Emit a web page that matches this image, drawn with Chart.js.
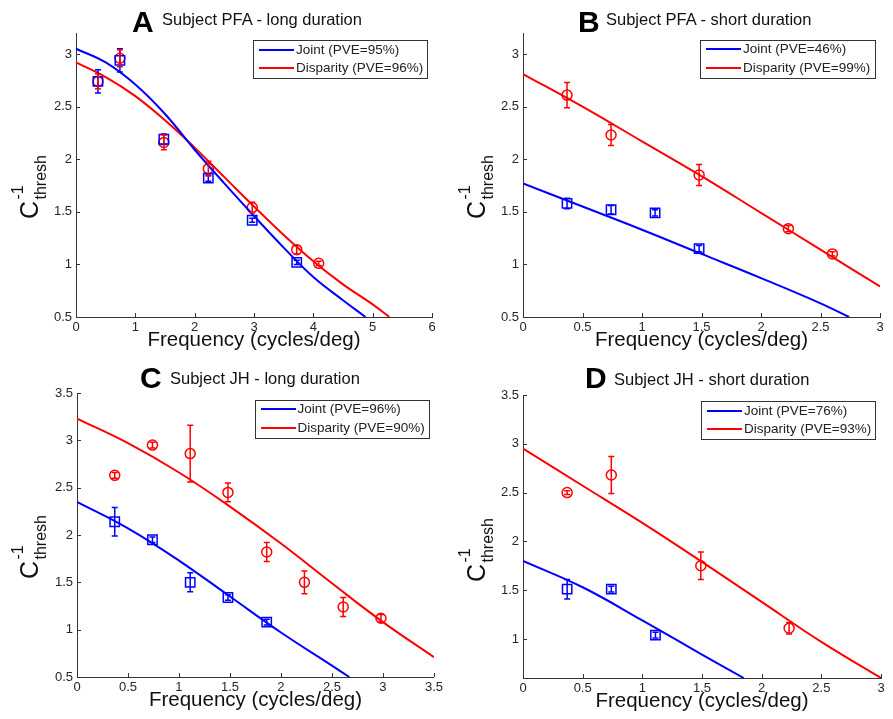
<!DOCTYPE html>
<html>
<head>
<meta charset="utf-8">
<script src="https://cdn.jsdelivr.net/npm/chart.js@4.4.1/dist/chart.umd.min.js"></script>
<style>
html,body{margin:0;padding:0;background:#fff;}
#fig{position:relative;width:893px;height:719px;overflow:hidden;background:#fff;font-family:'Liberation Sans',Arial,sans-serif;color:#000;}
canvas{position:absolute;}
.lt{position:absolute;font-weight:bold;font-size:30px;line-height:30px;white-space:nowrap;color:#000;}
.tt{position:absolute;font-size:16.5px;line-height:16.5px;white-space:nowrap;color:#111;}
.leg{position:absolute;box-sizing:border-box;border:1px solid #333;background:#fff;}
.leg .ln{position:absolute;height:2px;}
.leg .tx{position:absolute;font-size:13.5px;line-height:18px;white-space:nowrap;color:#222;}
.ylab{position:absolute;width:66px;height:46px;transform:rotate(-90deg);transform-origin:50% 50%;color:#111;}
.ylab span{position:absolute;white-space:nowrap;}
.ylab .yc{left:0;top:10px;font-size:25px;line-height:25px;}
.ylab .ysup{left:19.5px;top:3px;font-size:16px;line-height:16px;}
.ylab .ysub{left:19.5px;top:26px;font-size:16px;line-height:16px;}
</style>
</head>
<body>
<div id="fig"></div>
<script>
// ---------------- DATA ----------------
const seriesNames = ['Joint', 'Disparity'];
const xAxisLabel = 'Frequency (cycles/deg)';

// Panel A : Subject PFA - long duration
const aTitle = 'Subject PFA - long duration';
const aLegend = ['Joint (PVE=95%)', 'Disparity (PVE=96%)'];
const aJointFreq = [0.37, 0.74, 1.48, 2.23, 2.97, 3.72];
const aJointVal  = [2.74, 2.94, 2.19, 1.82, 1.42, 1.02];
const aJointErr  = [0.11, 0.11, 0.05, 0.03, 0.02, 0.02];
const aDispFreq  = [0.37, 0.74, 1.48, 2.23, 2.97, 3.72, 4.09];
const aDispVal   = [2.74, 2.96, 2.16, 1.91, 1.54, 1.14, 1.01];
const aDispErr   = [0.07, 0.08, 0.07, 0.07, 0.05, 0.04, 0.02];
const aJointFitFreq = [0, 0.5, 1, 1.5, 2, 2.5, 3, 3.5, 4, 4.5, 4.88];
const aJointFitVal  = [3.05, 2.92, 2.71, 2.43, 2.09, 1.77, 1.46, 1.16, 0.88, 0.66, 0.5];
const aDispFitFreq  = [0, 0.5, 1, 1.5, 2, 2.5, 3, 3.5, 4, 4.5, 5, 5.28];
const aDispFitVal   = [2.92, 2.78, 2.60, 2.37, 2.11, 1.83, 1.55, 1.28, 1.03, 0.81, 0.62, 0.5];
const aXTicks = [0, 1, 2, 3, 4, 5, 6];
const aYTicks = [0.5, 1, 1.5, 2, 2.5, 3];

// Panel B : Subject PFA - short duration
const bTitle = 'Subject PFA - short duration';
const bLegend = ['Joint (PVE=46%)', 'Disparity (PVE=99%)'];
const bJointFreq = [0.37, 0.74, 1.11, 1.48];
const bJointVal  = [1.58, 1.52, 1.49, 1.15];
const bJointErr  = [0.05, 0.04, 0.03, 0.03];
const bDispFreq  = [0.37, 0.74, 1.48, 2.23, 2.60];
const bDispVal   = [2.61, 2.23, 1.85, 1.34, 1.10];
const bDispErr   = [0.12, 0.10, 0.10, 0.03, 0.02];
const bJointFitFreq = [0, 0.5, 1, 1.5, 2, 2.5, 2.74];
const bJointFitVal  = [1.77, 1.55, 1.33, 1.10, 0.87, 0.63, 0.5];
const bDispFitFreq  = [0, 0.5, 1, 1.5, 2, 2.5, 3];
const bDispFitVal   = [2.81, 2.50, 2.17, 1.84, 1.49, 1.14, 0.79];
const bXTicks = [0, 0.5, 1, 1.5, 2, 2.5, 3];
const bYTicks = [0.5, 1, 1.5, 2, 2.5, 3];

// Panel C : Subject JH - long duration
const cTitle = 'Subject JH - long duration';
const cLegend = ['Joint (PVE=96%)', 'Disparity (PVE=90%)'];
const cJointFreq = [0.37, 0.74, 1.11, 1.48, 1.86];
const cJointVal  = [2.14, 1.95, 1.50, 1.34, 1.08];
const cJointErr  = [0.15, 0.03, 0.10, 0.03, 0.03];
const cDispFreq  = [0.37, 0.74, 1.11, 1.48, 1.86, 2.23, 2.61, 2.98];
const cDispVal   = [2.63, 2.95, 2.86, 2.45, 1.82, 1.50, 1.24, 1.12];
const cDispErr   = [0.03, 0.03, 0.30, 0.10, 0.10, 0.12, 0.10, 0.04];
const cJointFitFreq = [0, 0.5, 1, 1.5, 2, 2.5, 2.67];
const cJointFitVal  = [2.35, 2.07, 1.73, 1.35, 0.97, 0.62, 0.5];
const cDispFitFreq  = [0, 0.5, 1, 1.5, 2, 2.5, 3, 3.5];
const cDispFitVal   = [3.23, 2.97, 2.66, 2.30, 1.91, 1.49, 1.08, 0.71];
const cXTicks = [0, 0.5, 1, 1.5, 2, 2.5, 3, 3.5];
const cYTicks = [0.5, 1, 1.5, 2, 2.5, 3, 3.5];

// Panel D : Subject JH - short duration
const dTitle = 'Subject JH - short duration';
const dLegend = ['Joint (PVE=76%)', 'Disparity (PVE=93%)'];
const dJointFreq = [0.37, 0.74, 1.11];
const dJointVal  = [1.51, 1.51, 1.04];
const dJointErr  = [0.10, 0.03, 0.03];
const dDispFreq  = [0.37, 0.74, 1.49, 2.23];
const dDispVal   = [2.50, 2.68, 1.75, 1.11];
const dDispErr   = [0.02, 0.19, 0.14, 0.06];
const dJointFitFreq = [0, 0.5, 1, 1.5, 1.85];
const dJointFitVal  = [1.80, 1.53, 1.19, 0.84, 0.6];
const dDispFitFreq  = [0, 0.5, 1, 1.5, 2, 2.5, 3];
const dDispFitVal   = [2.95, 2.57, 2.19, 1.79, 1.38, 0.97, 0.60];
const dXTicks = [0, 0.5, 1, 1.5, 2, 2.5, 3];
const dYTicks = [1, 1.5, 2, 2.5, 3, 3.5];

// ---------------- LAYOUT / STYLE ----------------
const JOINT_COLOR = '#0000ff';
const DISP_COLOR = '#ff0000';
const AXIS_COLOR = '#333333';
const TICK_COLOR = '#262626';

const panels = [
  { letter:'A', title:aTitle, legend:aLegend,
    jf:aJointFreq, jv:aJointVal, je:aJointErr, df:aDispFreq, dv:aDispVal, de:aDispErr,
    jfx:aJointFitFreq, jfy:aJointFitVal, dfx:aDispFitFreq, dfy:aDispFitVal,
    xt:aXTicks, yt:aYTicks, xmin:0, xmax:6, ymin:0.5, ymax:3.2,
    canvas:[0,0,446,360], area:[76,33,432,317],
    letterPos:[132,32], titlePos:[162,24.8], legBox:[253,40,175,39], ylab:[30,186] },
  { letter:'B', title:bTitle, legend:bLegend,
    jf:bJointFreq, jv:bJointVal, je:bJointErr, df:bDispFreq, dv:bDispVal, de:bDispErr,
    jfx:bJointFitFreq, jfy:bJointFitVal, dfx:bDispFitFreq, dfy:bDispFitVal,
    xt:bXTicks, yt:bYTicks, xmin:0, xmax:3, ymin:0.5, ymax:3.2,
    canvas:[447,0,446,360], area:[523,33,880,317],
    letterPos:[578,32], titlePos:[606,24.8], legBox:[700,39.5,176,39], ylab:[477,186] },
  { letter:'C', title:cTitle, legend:cLegend,
    jf:cJointFreq, jv:cJointVal, je:cJointErr, df:cDispFreq, dv:cDispVal, de:cDispErr,
    jfx:cJointFitFreq, jfy:cJointFitVal, dfx:cDispFitFreq, dfy:cDispFitVal,
    xt:cXTicks, yt:cYTicks, xmin:0, xmax:3.5, ymin:0.5, ymax:3.5,
    canvas:[0,360,446,359], area:[77,393,435,677],
    letterPos:[140,388], titlePos:[170,384], legBox:[254.5,399.5,175,39], ylab:[30,546] },
  { letter:'D', title:dTitle, legend:dLegend,
    jf:dJointFreq, jv:dJointVal, je:dJointErr, df:dDispFreq, dv:dDispVal, de:dDispErr,
    jfx:dJointFitFreq, jfy:dJointFitVal, dfx:dDispFitFreq, dfy:dDispFitVal,
    xt:dXTicks, yt:dYTicks, xmin:0, xmax:3, ymin:0.6, ymax:3.5,
    canvas:[447,360,446,359], area:[523,395,881,678],
    letterPos:[585,388], titlePos:[614,384.5], legBox:[701,401,175,39], ylab:[477,549] }
];

Chart.defaults.font.family = "'Liberation Sans', Arial, sans-serif";

const inwardTicks = {
  id:'inwardTicks',
  afterDraw(chart){
    const {ctx, chartArea:ca, scales:{x, y}} = chart;
    ctx.save();
    ctx.strokeStyle = AXIS_COLOR; ctx.lineWidth = 1;
    x.ticks.forEach(t => {
      const px = Math.round(x.getPixelForValue(t.value)) + 0.5;
      ctx.beginPath(); ctx.moveTo(px, ca.bottom); ctx.lineTo(px, ca.bottom - 4); ctx.stroke();
    });
    y.ticks.forEach(t => {
      const py = Math.round(y.getPixelForValue(t.value)) + 0.5;
      ctx.beginPath(); ctx.moveTo(ca.left, py); ctx.lineTo(ca.left + 4, py); ctx.stroke();
    });
    ctx.restore();
  }
};

const errorBars = {
  id:'errorBars',
  afterDatasetsDraw(chart){
    const {ctx, scales:{x, y}} = chart;
    chart.data.datasets.forEach(ds => {
      if (!ds.errorBars) return;
      ctx.save();
      ctx.strokeStyle = ds.borderColor; ctx.lineWidth = 1.5;
      ds.data.forEach((p, j) => {
        const e = ds.errorBars[j];
        const px = x.getPixelForValue(p.x);
        const y1 = y.getPixelForValue(p.y - e), y2 = y.getPixelForValue(p.y + e);
        ctx.beginPath();
        ctx.moveTo(px, y1); ctx.lineTo(px, y2);
        ctx.moveTo(px - 3, y1); ctx.lineTo(px + 3, y1);
        ctx.moveTo(px - 3, y2); ctx.lineTo(px + 3, y2);
        ctx.stroke();
      });
      ctx.restore();
    });
  }
};

const fig = document.getElementById('fig');
const zip = (xs, ys) => xs.map((v, i) => ({x:v, y:ys[i]}));

function addText(cls, txt, left, top){
  const s = document.createElement('div');
  s.className = cls; s.textContent = txt;
  s.style.left = left + 'px'; s.style.top = top + 'px';
  fig.appendChild(s);
  return s;
}

panels.forEach(p => {
  const [cx, cy, cw, ch] = p.canvas;
  const [al, at, ar, ab] = p.area;
  const cv = document.createElement('canvas');
  cv.width = cw; cv.height = ch;
  cv.style.left = cx + 'px'; cv.style.top = cy + 'px';
  cv.style.width = cw + 'px'; cv.style.height = ch + 'px';
  fig.appendChild(cv);

  const yW = al - cx, xH = cy + ch - ab;
  const padTop = at - cy, padRight = cx + cw - ar;
  const titleSize = 20.5, titleLH = titleSize * 1.2;
  const titleBaseline = ab + 29.7 - cy;
  const titleMid = titleBaseline - 0.31 * titleSize;
  const titlePadBottom = ch - titleMid - titleLH / 2;

  new Chart(cv, {
    type:'scatter',
    data:{ datasets:[
      { label:seriesNames[0] + ' fit', data:zip(p.jfx, p.jfy), showLine:true, borderColor:JOINT_COLOR,
        borderWidth:2, pointRadius:0, tension:0.4, fill:false },
      { label:seriesNames[1] + ' fit', data:zip(p.dfx, p.dfy), showLine:true, borderColor:DISP_COLOR,
        borderWidth:2, pointRadius:0, tension:0.4, fill:false },
      { label:seriesNames[0], data:zip(p.jf, p.jv), errorBars:p.je, showLine:false, borderColor:JOINT_COLOR,
        backgroundColor:'rgba(0,0,0,0)', pointStyle:'rect', pointRadius:6.6, borderWidth:1.5 },
      { label:seriesNames[1], data:zip(p.df, p.dv), errorBars:p.de, showLine:false, borderColor:DISP_COLOR,
        backgroundColor:'rgba(0,0,0,0)', pointStyle:'circle', pointRadius:5, borderWidth:1.5 }
    ]},
    options:{
      responsive:false, animation:false, devicePixelRatio:1,
      layout:{ padding:{ top:padTop, right:padRight, left:0, bottom:0 } },
      plugins:{ legend:{display:false}, tooltip:{enabled:false}, title:{display:false} },
      scales:{
        x:{ type:'linear', min:p.xmin, max:p.xmax,
          afterBuildTicks:s => { s.ticks = p.xt.map(v => ({value:v})); },
          afterFit:s => { s.height = xH; },
          grid:{ display:false, drawTicks:false },
          border:{ display:true, color:AXIS_COLOR, width:1 },
          ticks:{ color:TICK_COLOR, font:{size:13}, padding:3, maxRotation:0, autoSkip:false, callback:v => String(v) },
          title:{ display:true, text:xAxisLabel, color:'#111', font:{size:titleSize}, padding:{top:0, bottom:titlePadBottom} } },
        y:{ type:'linear', min:p.ymin, max:p.ymax,
          afterBuildTicks:s => { s.ticks = p.yt.map(v => ({value:v})); },
          afterFit:s => { s.width = yW; },
          grid:{ display:false, drawTicks:false },
          border:{ display:true, color:AXIS_COLOR, width:1 },
          ticks:{ color:TICK_COLOR, font:{size:13}, padding:4, autoSkip:false, callback:v => String(v) } }
      }
    },
    plugins:[inwardTicks, errorBars]
  });

  // panel letter + title (baseline positioned)
  addText('lt', p.letter, p.letterPos[0], p.letterPos[1] - 0.8465 * 30);
  addText('tt', p.title, p.titlePos[0], p.titlePos[1] - 0.8465 * 16.5);

  // legend box
  const [lx, ly, lw, lh] = p.legBox;
  const leg = document.createElement('div');
  leg.className = 'leg';
  leg.style.left = lx + 'px'; leg.style.top = ly + 'px';
  leg.style.width = lw + 'px'; leg.style.height = lh + 'px';
  [JOINT_COLOR, DISP_COLOR].forEach((col, i) => {
    const rowC = 9.5 + 18.5 * i - 1;
    const ln = document.createElement('div');
    ln.className = 'ln'; ln.style.background = col;
    ln.style.left = '5px'; ln.style.width = '35px'; ln.style.top = (rowC - 1) + 'px';
    leg.appendChild(ln);
    const tx = document.createElement('div');
    tx.className = 'tx'; tx.textContent = p.legend[i];
    tx.style.left = '42px'; tx.style.top = (rowC - 9) + 'px';
    leg.appendChild(tx);
  });
  fig.appendChild(leg);

  // y-axis label  C^{-1}_{thresh}
  const yl = document.createElement('div');
  yl.className = 'ylab';
  yl.style.left = (p.ylab[0] - 33) + 'px';
  yl.style.top = (p.ylab[1] - 23) + 'px';
  yl.innerHTML = '<span class="yc">C</span><span class="ysup">-1</span><span class="ysub">thresh</span>';
  fig.appendChild(yl);
});
</script>
</body>
</html>
